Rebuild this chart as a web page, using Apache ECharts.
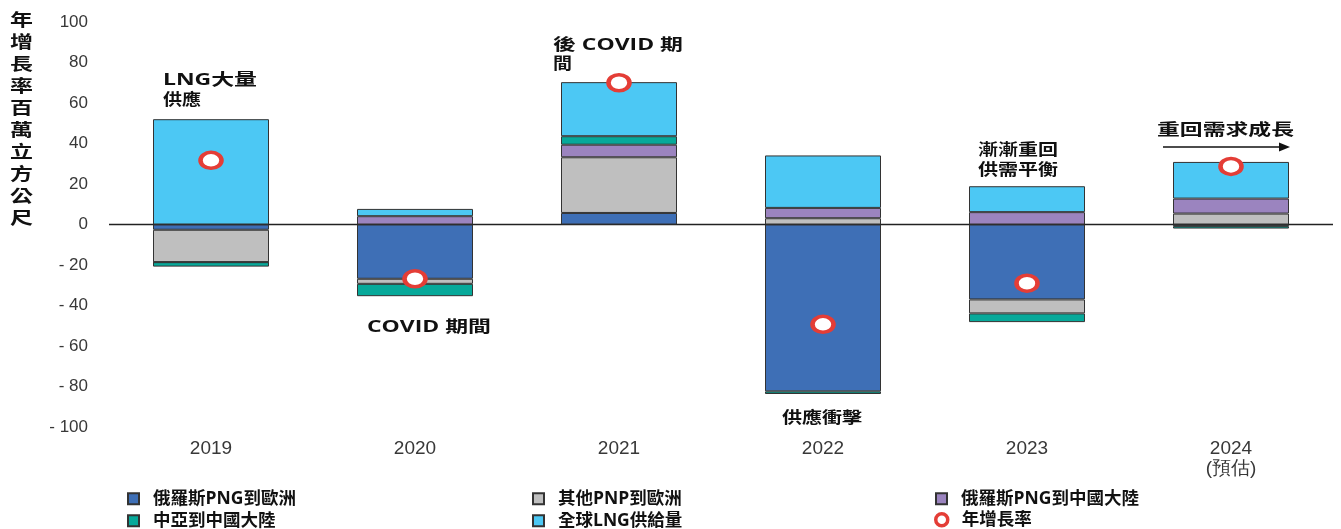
<!DOCTYPE html>
<html><head><meta charset="utf-8">
<script src="https://cdn.jsdelivr.net/npm/echarts@6/dist/echarts.min.js"></script>
<style>html,body{margin:0;padding:0;background:#fff}#c{width:1341px;height:529px}</style>
</head><body><div id="c"></div>
<script>
const categories = ['2019', '2020', '2021', '2022', '2023', '2024\n(預估)'];
const ruPngEurope = [-2.6, -26.8, 5.7, -82.4, -37.0, -0.8];
const otherPnpEurope = [-16.0, -2.5, 27.5, 3.1, -6.9, 5.4];
const ruPngChina = [0, 4.1, 6.2, 5.1, 6.1, 7.4];
const centralAsiaChina = [-2.2, -6.1, 4.2, -1.3, -4.3, -1.2];
const globalLng = [52.0, 3.6, 26.7, 25.9, 12.8, 18.1];
const growthRate = [31.7, -26.8, 70.0, -49.3, -29.0, 28.7];
const yTicks = [-100, -80, -60, -40, -20, 0, 20, 40, 60, 80, 100];
const names = ['俄羅斯PNG到歐洲', '其他PNP到歐洲', '俄羅斯PNG到中國大陸', '中亞到中國大陸', '全球LNG供給量', '年增長率'];

const CJK = "'Open Sans','Noto Sans CJK TC',sans-serif";
const colors = ['#3e6fb6', '#bfbfbf', '#9b84bf', '#07a99a', '#4cc8f4'];
const barData = [ruPngEurope, otherPnpEurope, ruPngChina, centralAsiaChina, globalLng];

const chart = echarts.init(document.getElementById('c'), null, {renderer: 'canvas'});
const barSeries = barData.map((d, i) => ({
  name: names[i], type: 'bar', stack: 'all', data: d, barWidth: 116,
  itemStyle: {color: colors[i], borderColor: '#333', borderWidth: 1},
  emphasis: {disabled: true}
}));
barSeries[0].markLine = {
  silent: true, symbol: 'none', label: {show: false},
  lineStyle: {color: '#222', width: 1.3, type: 'solid'},
  data: [{yAxis: 0}], z: 1
};
function legendAt(left, top, item, icon, size) {
  return {
    left: left, top: top, orient: 'vertical', itemWidth: size || 11, itemHeight: size || 11, itemGap: 0,
    icon: icon, data: [item], selectedMode: false,
    textStyle: {fontSize: 17.5, fontWeight: 'bold', color: '#111', fontFamily: CJK, padding: [0, 0, 0, 9]}
  };
}
const measureCtx = document.createElement('canvas').getContext('2d');
function txt(x, y, s, targetW, size) {
  const font = 'bold ' + (size || 16) + 'px ' + CJK;
  measureCtx.font = font;
  const w = measureCtx.measureText(s).width;
  return {type: 'text', x: x, y: y, scaleX: targetW / w, style: {text: s, fill: '#111', font: font, textVerticalAlign: 'middle'}};
}
const option = {
  animation: false,
  grid: {left: 109, right: 8, top: 22, bottom: 102},
  xAxis: {
    type: 'category', data: categories,
    axisLine: {show: false, onZero: false}, axisTick: {show: false},
    axisLabel: {fontSize: 19, color: '#383838', fontFamily: 'Liberation Sans', margin: 12, lineHeight: 20}
  },
  yAxis: {
    type: 'value', min: -100, max: 100, interval: 20,
    axisLine: {show: false}, axisTick: {show: false}, splitLine: {show: false},
    axisLabel: {fontSize: 17, color: '#383838', fontFamily: 'Liberation Sans', margin: 21,
      formatter: v => yTicks.includes(v) ? (v < 0 ? '- ' + (-v) : String(v)) : ''}
  },
  legend: [
    legendAt(122, 485, names[0], 'rect'),
    legendAt(122, 507, names[3], 'rect'),
    legendAt(527, 485, names[1], 'rect'),
    legendAt(527, 507, names[4], 'rect'),
    legendAt(930, 485, names[2], 'rect'),
    legendAt(929, 506, {name: names[5], itemStyle: {color: '#fff', borderColor: '#e43d36', borderWidth: 3.5}}, 'circle', 12)
  ],
  series: barSeries.concat([{
    name: names[5], type: 'scatter', data: growthRate, z: 10,
    symbol: 'circle', symbolSize: [21, 16],
    itemStyle: {color: '#fff', borderColor: '#e43d36', borderWidth: 4, opacity: 1},
    emphasis: {disabled: true}
  }]),
  graphic: [
    {type: 'text', x: 10, y: 10, scaleX: 1.35, style: {text: '年\n增\n長\n率\n百\n萬\n立\n方\n公\n尺', font: 'bold 17px ' + CJK, fill: '#111', lineHeight: 22}},
    txt(163, 80, 'LNG大量', 94), txt(163, 100, '供應', 38),
    txt(553, 45, '後 COVID 期', 130), txt(553, 64, '間', 19),
    txt(367, 327, 'COVID 期間', 124),
    txt(782, 418, '供應衝擊', 80),
    txt(978, 150, '漸漸重回', 80), txt(978, 170, '供需平衡', 80),
    txt(1157, 130, '重回需求成長', 137),
    {type: 'line', shape: {x1: 1163, y1: 147, x2: 1282, y2: 147}, style: {stroke: '#111', lineWidth: 1.5}},
    {type: 'polygon', shape: {points: [[1290, 147], [1279, 142.5], [1279, 151.5]]}, style: {fill: '#111'}}
  ]
};
chart.setOption(option);
</script></body></html>
